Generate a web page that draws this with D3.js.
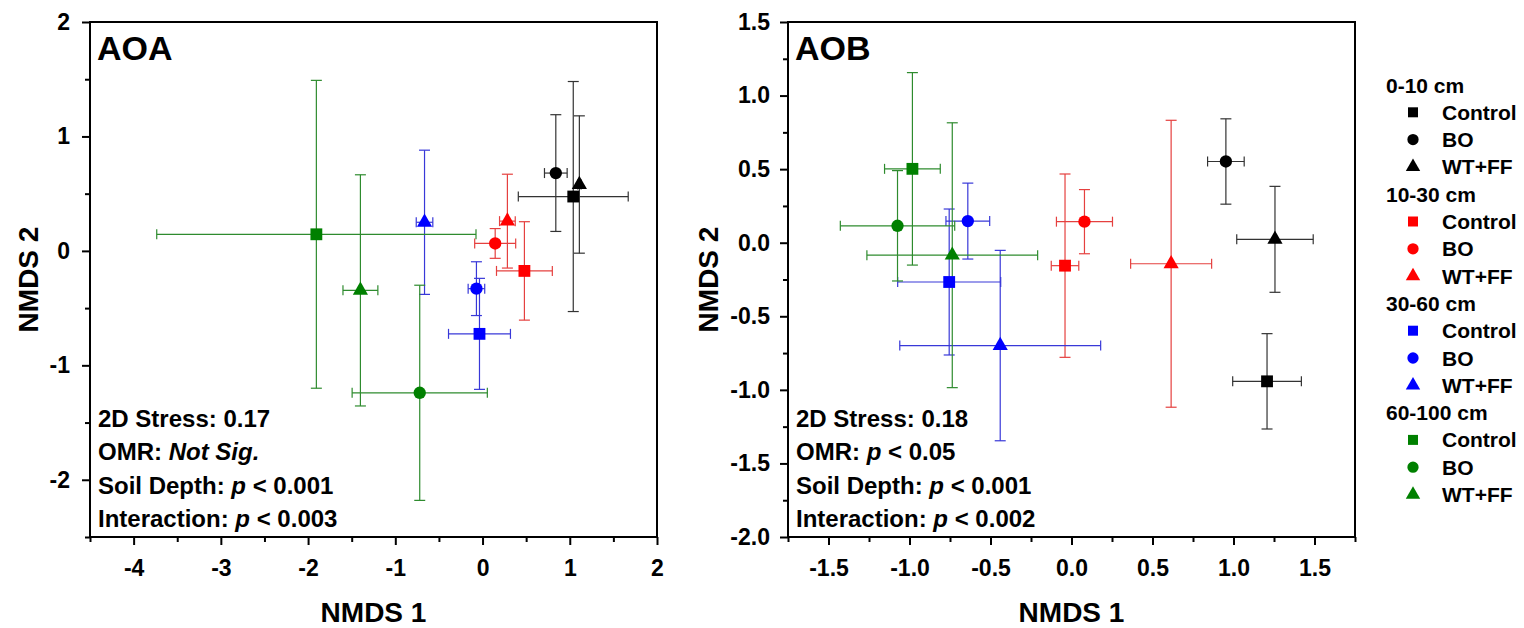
<!DOCTYPE html>
<html>
<head>
<meta charset="utf-8">
<script src="https://cdn.jsdelivr.net/npm/d3@7"></script>
<style>
  body { margin: 0; background: #fff; }
  text { font-family: "Liberation Sans", Arial, sans-serif; font-weight: bold; fill: #000; }
</style>
</head>
<body>
<svg id="chart" width="1524" height="628"></svg>
<script>
"use strict";

// Groups: depth x treatment, depth major order
var depths = ['0-10 cm', '10-30 cm', '30-60 cm', '60-100 cm'];
var treatments = ['Control', 'BO', 'WT+FF'];
var depthColors = ['#000000', '#ff0000', '#0000ff', '#008000'];
var barColors = ['#333333', '#e5403f', '#3838d8', '#2e8b2e'];

// AOA panel
var aoaX    = [1.04, 0.84, 1.11,   0.48, 0.145, 0.285,   -0.035, -0.07, -0.665,   -1.905, -0.72, -1.40];
var aoaY    = [0.475, 0.68, 0.58,  -0.175, 0.065, 0.26,  -0.725, -0.33, 0.25,     0.145, -1.24, -0.345];
var aoaXErr = [0.63, 0.13, 0.02,   0.32, 0.235, 0.09,    0.355, 0.095, 0.095,     1.83, 0.775, 0.20];
var aoaYErr = [1.005, 0.51, 0.60,  0.43, 0.13, 0.41,     0.485, 0.235, 0.63,      1.345, 0.94, 1.01];

// AOB panel
var aobX    = [1.207, 0.953, 1.256,  -0.04, 0.08, 0.615,    -0.755, -0.64, -0.44,   -0.982, -1.074, -0.736];
var aobY    = [-0.942, 0.552, 0.023, -0.156, 0.143, -0.143, -0.267, 0.147, -0.699, 0.502, 0.115, -0.085];
var aobXErr = [0.212, 0.113, 0.236,  0.085, 0.173, 0.25,    0.318, 0.135, 0.62,     0.172, 0.353, 0.527];
var aobYErr = [0.324, 0.29, 0.36,    0.623, 0.218, 0.975,   0.496, 0.258, 0.647,    0.654, 0.375, 0.90];

// Axis ticks
var aoaXTicks = [-4, -3, -2, -1, 0, 1, 2];
var aoaYTicks = [2, 1, 0, -1, -2];
var aobXTicks = [-1.5, -1.0, -0.5, 0.0, 0.5, 1.0, 1.5];
var aobYTicks = [1.5, 1.0, 0.5, 0.0, -0.5, -1.0, -1.5, -2.0];

var aoaStats = [
  [['2D Stress: 0.17', false]],
  [['OMR: ', false], ['Not Sig.', true]],
  [['Soil Depth: ', false], ['p', true], [' < 0.001', false]],
  [['Interaction: ', false], ['p', true], [' < 0.003', false]]
];
var aobStats = [
  [['2D Stress: 0.18', false]],
  [['OMR: ', false], ['p', true], [' < 0.05', false]],
  [['Soil Depth: ', false], ['p', true], [' < 0.001', false]],
  [['Interaction: ', false], ['p', true], [' < 0.002', false]]
];

var symbols = [d3.symbolSquare, d3.symbolCircle, d3.symbolTriangle];
var markerSizes = [140, 120, 100];
var legendSizes = [100, 100, 90];

var svg = d3.select('#chart');
var plotTop = 22, plotBottom = 537;

var drawPanel = function (p) {
  var x = d3.scaleLinear().domain(p.xDomain).range([p.left, p.right]);
  var y = d3.scaleLinear().domain(p.yDomain).range([plotBottom, plotTop]);
  var g = svg.append('g');

  // minor ticks
  g.append('g')
    .attr('transform', 'translate(0,' + plotBottom + ')')
    .call(d3.axisBottom(x).tickValues(p.xMinor).tickSize(5).tickFormat(''))
    .call(function (a) { a.select('.domain').remove(); a.selectAll('line').attr('stroke-width', 2); });
  g.append('g')
    .attr('transform', 'translate(' + p.left + ',0)')
    .call(d3.axisLeft(y).tickValues(p.yMinor).tickSize(5).tickFormat(''))
    .call(function (a) { a.select('.domain').remove(); a.selectAll('line').attr('stroke-width', 2); });

  // major ticks with labels
  g.append('g')
    .attr('transform', 'translate(0,' + plotBottom + ')')
    .call(d3.axisBottom(x).tickValues(p.xTicks).tickSize(8).tickPadding(15).tickFormat(p.fmt))
    .call(function (a) {
      a.select('.domain').remove();
      a.selectAll('line').attr('stroke-width', 2);
      a.selectAll('text').style('font-size', '23px').attr('fill', '#000');
    });
  g.append('g')
    .attr('transform', 'translate(' + p.left + ',0)')
    .call(d3.axisLeft(y).tickValues(p.yTicks).tickSize(8).tickPadding(p.yPad).tickFormat(p.fmt))
    .call(function (a) {
      a.select('.domain').remove();
      a.selectAll('line').attr('stroke-width', 2);
      a.selectAll('text').style('font-size', '23px').attr('fill', '#000');
    });

  // frame
  g.append('rect')
    .attr('x', p.left).attr('y', plotTop)
    .attr('width', p.right - p.left).attr('height', plotBottom - plotTop)
    .attr('fill', 'none').attr('stroke', '#000').attr('stroke-width', 2);

  // error bars and markers
  var capW = 5.5;
  p.xs.forEach(function (xv, i) {
    var d = Math.floor(i / 3);
    var cx = x(xv), cy = y(p.ys[i]);
    var x0 = x(xv - p.xErr[i]), x1 = x(xv + p.xErr[i]);
    var y0 = y(p.ys[i] - p.yErr[i]), y1 = y(p.ys[i] + p.yErr[i]);
    var eb = g.append('g').attr('stroke', barColors[d]).attr('stroke-width', 1.2).attr('fill', 'none');
    eb.append('line').attr('x1', cx).attr('x2', cx).attr('y1', y0).attr('y2', y1);
    eb.append('line').attr('x1', cx - capW).attr('x2', cx + capW).attr('y1', y0).attr('y2', y0);
    eb.append('line').attr('x1', cx - capW).attr('x2', cx + capW).attr('y1', y1).attr('y2', y1);
    eb.append('line').attr('x1', x0).attr('x2', x1).attr('y1', cy).attr('y2', cy);
    eb.append('line').attr('x1', x0).attr('x2', x0).attr('y1', cy - 5).attr('y2', cy + 5);
    eb.append('line').attr('x1', x1).attr('x2', x1).attr('y1', cy - 5).attr('y2', cy + 5);
  });
  p.xs.forEach(function (xv, i) {
    var d = Math.floor(i / 3), t = i % 3;
    g.append('path')
      .attr('d', d3.symbol().type(symbols[t]).size(markerSizes[t]))
      .attr('transform', 'translate(' + x(xv) + ',' + y(p.ys[i]) + ')')
      .attr('fill', depthColors[d]);
  });

  // panel label
  g.append('text').attr('x', p.left + 7).attr('y', 60)
    .style('font-size', '34px').text(p.label);

  // stats text
  p.stats.forEach(function (line, k) {
    var tx = g.append('text').attr('x', p.left + 8).attr('y', 427 + k * 33.3)
      .style('font-size', '24px');
    line.forEach(function (part) {
      tx.append('tspan').style('font-style', part[1] ? 'italic' : 'normal').text(part[0]);
    });
  });

  // axis titles
  g.append('text')
    .attr('x', (p.left + p.right) / 2).attr('y', 622)
    .attr('text-anchor', 'middle').style('font-size', '28px').text('NMDS 1');
  g.append('text')
    .attr('transform', 'translate(' + p.yTitleX + ',' + ((plotTop + plotBottom) / 2) + ') rotate(-90)')
    .attr('text-anchor', 'middle').style('font-size', '28px').text('NMDS 2');
};

drawPanel({
  label: 'AOA', left: 90, right: 657,
  xDomain: [-4.5, 2], yDomain: [-2.5, 2],
  xTicks: aoaXTicks, yTicks: aoaYTicks,
  xMinor: d3.range(-4.5, 2, 1), yMinor: d3.range(-2.5, 2, 1),
  fmt: function (v) { return String(v); }, yPad: 12, yTitleX: 38,
  xs: aoaX, ys: aoaY, xErr: aoaXErr, yErr: aoaYErr, stats: aoaStats
});

drawPanel({
  label: 'AOB', left: 788, right: 1355,
  xDomain: [-1.75, 1.75], yDomain: [-2, 1.5],
  xTicks: aobXTicks, yTicks: aobYTicks,
  xMinor: d3.range(-1.75, 1.8, 0.5), yMinor: d3.range(-1.75, 1.5, 0.5),
  fmt: function (v) { return v.toFixed(1); }, yPad: 10, yTitleX: 718,
  xs: aobX, ys: aobY, xErr: aobXErr, yErr: aobYErr, stats: aobStats
});

// Legend
var legend = svg.append('g');
var row = 0, rowH = 27.3, rowY0 = 85;
depths.forEach(function (depth, d) {
  legend.append('text').attr('x', 1386).attr('y', rowY0 + row * rowH + 7.5)
    .style('font-size', '21px').text(depth);
  row++;
  treatments.forEach(function (tr, t) {
    var cy = rowY0 + row * rowH;
    legend.append('path')
      .attr('d', d3.symbol().type(symbols[t]).size(legendSizes[t]))
      .attr('transform', 'translate(1413,' + cy + ')')
      .attr('fill', depthColors[d]);
    legend.append('text').attr('x', 1442).attr('y', cy + 7.5)
      .style('font-size', '21px').text(tr);
    row++;
  });
});
</script>
</body>
</html>
